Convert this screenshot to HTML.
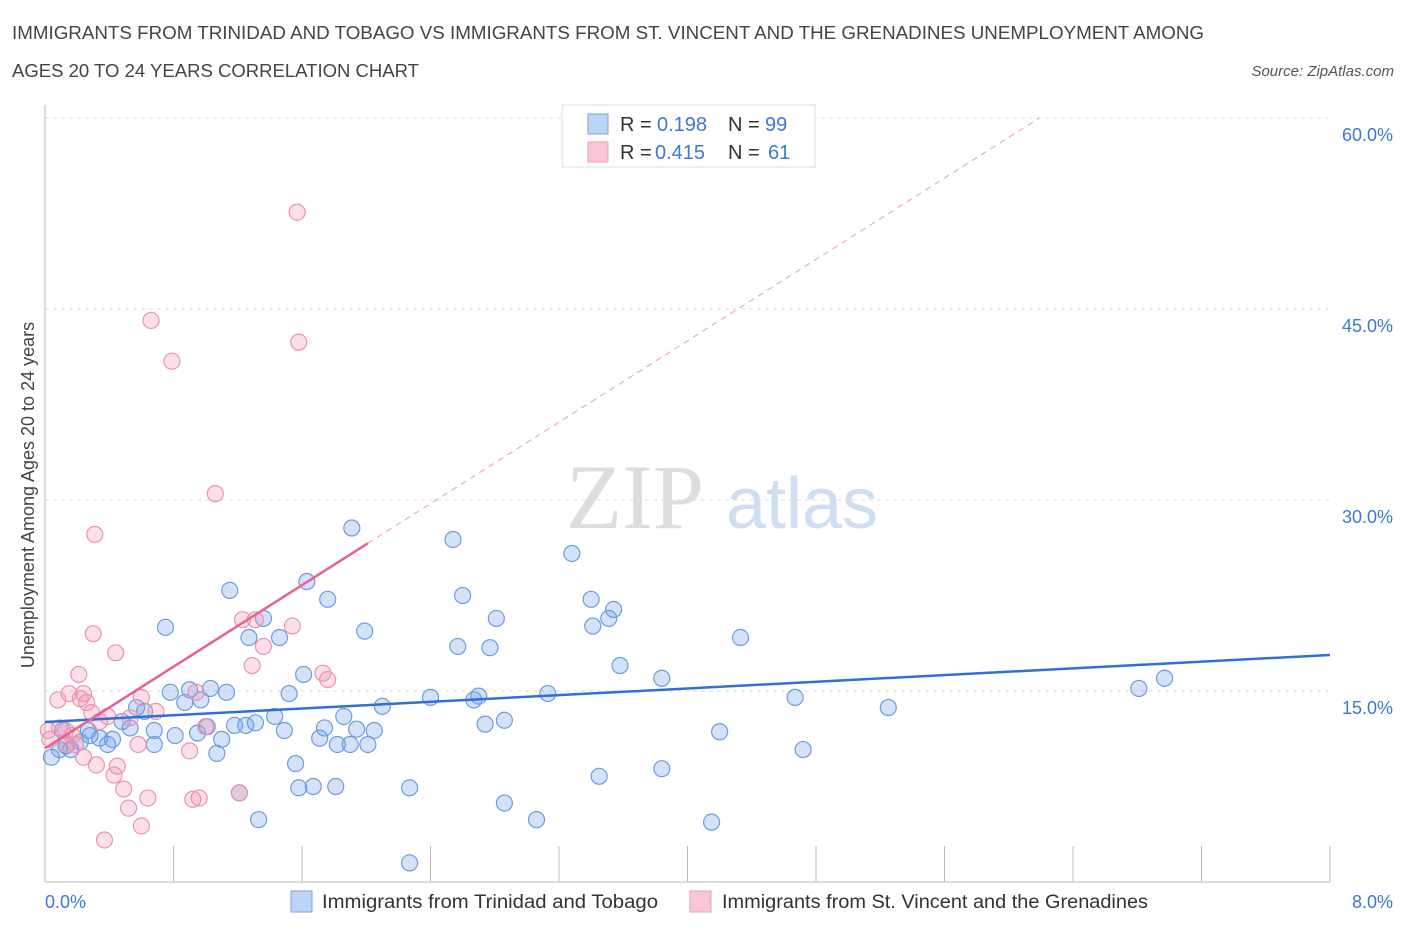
<!DOCTYPE html>
<html><head><meta charset="utf-8"><style>
body{margin:0;background:#fff;font-family:"Liberation Sans",sans-serif;}
</style></head><body>
<svg id="c" width="1406" height="930" xmlns="http://www.w3.org/2000/svg" style="font-family:'Liberation Sans',sans-serif">
<text x="12" y="39" font-size="18" fill="#444" textLength="1192" lengthAdjust="spacingAndGlyphs">IMMIGRANTS FROM TRINIDAD AND TOBAGO VS IMMIGRANTS FROM ST. VINCENT AND THE GRENADINES UNEMPLOYMENT AMONG</text>
<text x="12" y="77" font-size="18" fill="#444" textLength="407" lengthAdjust="spacingAndGlyphs">AGES 20 TO 24 YEARS CORRELATION CHART</text>
<text x="1394" y="76" font-size="15" fill="#555" text-anchor="end" font-style="italic">Source: ZipAtlas.com</text>
<text x="635" y="528" font-size="92" fill="#ddd" text-anchor="middle" font-family="Liberation Serif">ZIP</text>
<text x="802" y="528" font-size="72" fill="#cfdff3" text-anchor="middle">atlas</text>
<text transform="translate(34,495) rotate(-90)" font-size="18" fill="#444" text-anchor="middle">Unemployment Among Ages 20 to 24 years</text>
<g id="grid"></g><g id="pts"></g><g id="lines"></g>
<g>
<rect x="562" y="105" width="253" height="62" fill="#fff" stroke="#ddd"/>
<rect x="588" y="114" width="20" height="20" fill="#bcd4f5" stroke="#7aa6e6"/>
<rect x="588" y="142" width="20" height="20" fill="#f9c6d5" stroke="#ee9db7"/>
<text y="131" font-size="20" fill="#333"><tspan x="620">R =</tspan><tspan x="657" fill="#3b78d8">0.198</tspan><tspan x="728">N =</tspan><tspan x="765" fill="#3b78d8">99</tspan></text>
<text y="159" font-size="20" fill="#333"><tspan x="620">R =</tspan><tspan x="655" fill="#3b78d8">0.415</tspan><tspan x="728">N =</tspan><tspan x="768" fill="#3b78d8">61</tspan></text>
</g>
<text x="45" y="908" font-size="18" fill="#3b78d8">0.0%</text>
<text x="1393" y="908" font-size="18" fill="#3b78d8" text-anchor="end">8.0%</text>
<rect x="291" y="891" width="21" height="21" fill="#bcd4f5" stroke="#7aa6e6"/>
<text x="322" y="908" font-size="19" fill="#333" textLength="336" lengthAdjust="spacingAndGlyphs">Immigrants from Trinidad and Tobago</text>
<rect x="690" y="891" width="21" height="21" fill="#f9c6d5" stroke="#ee9db7"/>
<text x="722" y="908" font-size="19" fill="#333" textLength="426" lengthAdjust="spacingAndGlyphs">Immigrants from St. Vincent and the Grenadines</text>
</svg>
<script>
const yTicks=[15,30,45,60];
const yTickLabels=["15.0%","30.0%","45.0%","60.0%"];
const xTicks=[0,0.8,1.6,2.4,3.2,4.0,4.8,5.6,6.4,7.2,8.0];
const blueX=[1.91,2.54,3.28,1.63,1.15,2.60,3.40,1.76,3.54,1.36,2.81,3.51,3.41,0.75,1.99,1.27,1.46,4.33,2.57,2.77,3.58,1.61,3.84,6.97,6.81,1.03,0.90,0.78,1.13,1.52,3.13,4.67,2.40,2.70,2.67,0.97,0.87,2.10,0.57,0.62,5.25,1.86,1.43,2.86,2.74,0.48,1.18,1.25,1.01,1.31,1.49,1.74,1.94,2.05,0.68,0.81,0.95,4.20,0.27,0.11,0.53,1.10,1.71,1.82,2.01,1.90,0.68,0.42,0.34,0.22,0.13,0.09,0.04,1.07,4.72,1.56,3.45,3.84,1.58,1.67,1.81,2.27,1.21,2.86,1.33,3.06,4.15,2.27,0.16,0.39,0.28];
const blueY=[27.8,26.9,25.8,23.6,22.9,22.5,22.2,22.2,21.4,20.7,20.7,20.7,20.1,20.0,19.7,19.2,19.2,19.2,18.5,18.4,17.0,16.3,16.0,16.0,15.2,15.2,15.1,14.9,14.9,14.8,14.8,14.5,14.5,14.6,14.3,14.3,14.1,13.8,13.7,13.4,13.7,13.0,13.0,12.7,12.4,12.6,12.3,12.3,12.2,12.5,11.9,12.1,12.0,11.9,11.9,11.5,11.7,11.8,11.9,11.9,12.1,11.2,11.3,10.8,10.8,10.8,10.8,11.2,11.3,11.0,10.7,10.4,9.8,10.1,10.4,9.3,8.3,8.9,7.4,7.5,7.5,7.4,7.0,6.2,4.9,4.9,4.7,1.5,10.4,10.8,11.5];
const pinkX=[1.57,0.66,1.58,0.79,1.06,0.31,1.54,0.30,1.23,1.31,1.36,0.44,1.29,0.21,1.73,1.76,0.15,0.24,0.08,0.22,0.26,0.60,0.94,0.29,0.39,0.53,1.00,0.09,0.13,0.17,0.03,0.02,0.58,0.90,0.14,0.24,0.32,0.45,0.43,0.49,0.64,0.92,0.96,1.21,0.52,0.60,0.37,0.69,0.19,0.34];
const pinkY=[52.6,44.1,42.4,40.9,30.5,27.3,20.1,19.5,20.6,20.6,18.5,18.0,17.0,16.3,16.4,15.9,14.8,14.8,14.3,14.4,14.1,14.5,14.9,13.3,13.0,12.9,12.2,12.1,11.9,11.5,11.2,11.9,10.8,10.3,10.8,9.8,9.2,9.1,8.4,7.3,6.6,6.5,6.6,7.0,5.8,4.4,3.3,13.4,10.8,12.6];
const blueTrend=[[0,12.57],[8,17.83]];
const pinkTrend=[[0,10.5],[2.01,26.6]];
const pinkTrendDash=[[2.01,26.6],[6.19,60]];
const sx=v=>45+v/8*1285, sy=v=>882-v/15*191;
const NS="http://www.w3.org/2000/svg";
function mk(p,t,a){const e=document.createElementNS(NS,t);for(const k in a)e.setAttribute(k,a[k]);p.appendChild(e);return e;}
const g=document.getElementById('grid');
yTicks.forEach((t,i)=>{
 const l=mk(g,'line',{x1:45,x2:1330,y1:sy(t),y2:sy(t),stroke:'#ddd','stroke-dasharray':'4,4'});
 
 
 const tx=mk(g,'text',{x:1393,y:sy(t)+23,'font-size':18,fill:'#3b78d8','text-anchor':'end'});
 tx.textContent=yTickLabels[i];
 
 
});
const ax=mk(g,'line',{x1:45,x2:1330,y1:882,y2:882,stroke:'#bbb'});


const ay=mk(g,'line',{x1:45,x2:45,y1:105,y2:882,stroke:'#bbb'});


xTicks.forEach(t=>{
 const l=mk(g,'line',{x1:sx(t),x2:sx(t),y1:846,y2:882,stroke:'#bbb'});
 
 
});
const p=document.getElementById('pts');
blueX.forEach((x,i)=>{
 const c=mk(p,'circle',{cx:sx(x),cy:sy(blueY[i]),r:8,fill:'rgba(110,160,235,0.3)',stroke:'#6c9be0','stroke-width':1.2});
 
 
});
pinkX.forEach((x,i)=>{
 const c=mk(p,'circle',{cx:sx(x),cy:sy(pinkY[i]),r:8,fill:'rgba(245,150,180,0.3)',stroke:'#ea93ae','stroke-width':1.2});
 
 
});
const L=document.getElementById('lines');
const b=mk(L,'line',{x1:sx(blueTrend[0][0]),y1:sy(blueTrend[0][1]),x2:sx(blueTrend[1][0]),y2:sy(blueTrend[1][1]),stroke:'#2f6fd6','stroke-width':2.5});


const pk=mk(L,'line',{x1:sx(pinkTrend[0][0]),y1:sy(pinkTrend[0][1]),x2:sx(pinkTrend[1][0]),y2:sy(pinkTrend[1][1]),stroke:'#e8628f','stroke-width':2.5});


const pd=mk(L,'line',{x1:sx(pinkTrendDash[0][0]),y1:sy(pinkTrendDash[0][1]),x2:sx(pinkTrendDash[1][0]),y2:sy(pinkTrendDash[1][1]),stroke:'#eeaabf','stroke-width':1.2,'stroke-dasharray':'6,5'});


</script>
</body></html>
